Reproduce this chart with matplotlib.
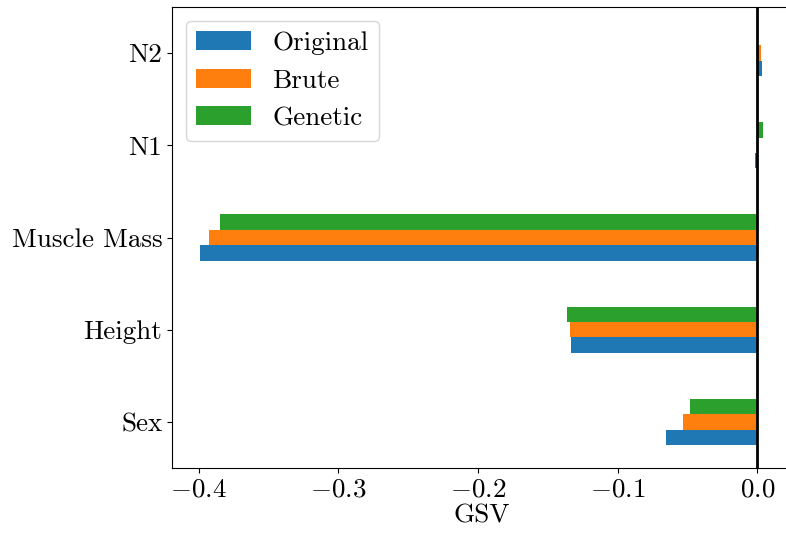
import matplotlib
matplotlib.use("Agg")
import matplotlib.pyplot as plt
from matplotlib.ticker import MultipleLocator
import numpy as np

categories = ["Sex", "Height", "Muscle Mass", "N1", "N2"]
series_names = ["Original", "Brute", "Genetic"]
original = [-0.0654, -0.1335, -0.3990, -0.0015, 0.0034]
brute = [-0.0532, -0.1342, -0.3925, 0.0002, 0.0030]
genetic = [-0.0482, -0.1363, -0.3846, 0.0040, 0.0002]
xlabel = "GSV"

plt.rcParams["font.family"] = "cmr10"
plt.rcParams["mathtext.fontset"] = "cm"
plt.rcParams["axes.formatter.use_mathtext"] = True
plt.rcParams["font.size"] = 19.5

fig = plt.figure(figsize=(7.86, 5.35), dpi=100)
ax = fig.add_axes([172 / 786, 1 - 468 / 535, (791 - 172) / 786, (468 - 7) / 535])

colors = ["#1f77b4", "#ff7f0e", "#2ca02c"]
w = 0.5 / 3
y = np.arange(len(categories))
for i, (name, vals) in enumerate(zip(series_names, [original, brute, genetic])):
    ax.barh(y + (i - 1) * w, vals, height=w, color=colors[i], label=name)

ax.axvline(0, color="black", linewidth=2)
ax.set_yticks(y)
ax.set_yticklabels(categories)
ax.set_ylim(-0.5, len(categories) - 0.5)
ax.xaxis.set_major_locator(MultipleLocator(0.1))
ax.set_xlabel(xlabel, labelpad=2)
ax.legend(loc="upper left")

fig.savefig("out.png", dpi=100)
